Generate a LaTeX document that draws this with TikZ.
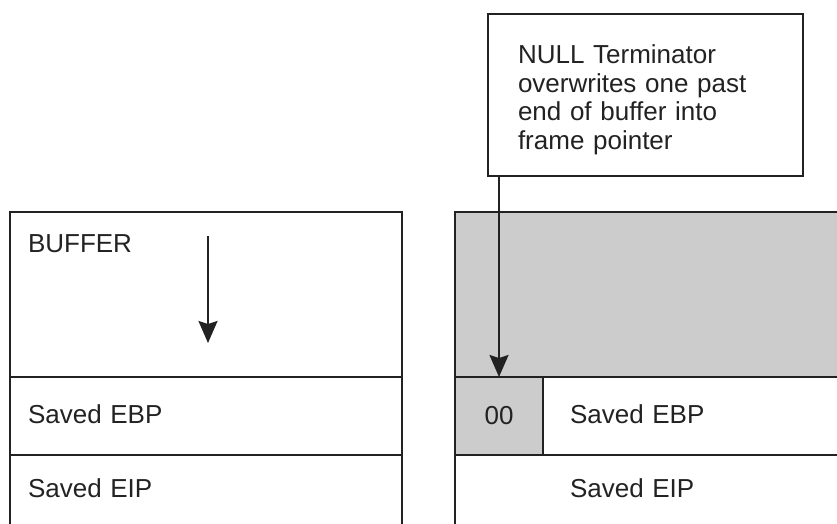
\documentclass[tikz,border=0pt]{standalone}
\usepackage{fontspec}
\setmainfont{Liberation Sans}
\usepackage{tikz}
\usetikzlibrary{arrows.meta}
\definecolor{inkgrey}{RGB}{34,34,34}
\definecolor{fillgrey}{RGB}{204,204,204}

\begin{document}
\begin{tikzpicture}[
  x=1pt, y=-1pt,
  font=\fontsize{26}{28.5}\selectfont,
  text=inkgrey,
  stackcell/.style={draw=inkgrey, line width=2pt, anchor=north west, outer sep=0pt, inner ysep=0pt, align=left},
  bufcell/.style={stackcell, text height=40pt, text depth=125pt},
  ebpcell/.style={stackcell, text height=46pt, text depth=32pt},
  eipcell/.style={stackcell, text height=42pt, text depth=63pt},
  nullcell/.style={stackcell, fill=fillgrey, align=center, inner sep=0pt, minimum width=88pt, minimum height=78pt},
  notebox/.style={draw=inkgrey, line width=2pt, anchor=north west, outer sep=0pt, inner xsep=30pt, inner ysep=0pt, text width=255pt, align=left, text height=50pt, text depth=112pt},
  pointer/.style={-{Stealth[length=22pt, width=19pt, inset=3pt]}, line width=2pt, draw=inkgrey}
]
\useasboundingbox (0,0) rectangle (837,524);
\clip (0,0) rectangle (837,524);

% Left: stack before the copy
\node[bufcell, inner xsep=18pt, text width=356pt] (bufL) at (10,212) {BUFFER};
\node[ebpcell, inner xsep=18pt, text width=356pt] (ebpL) at (10,377) {Saved EBP};
\node[eipcell, inner xsep=18pt, text width=356pt] (eipL) at (10,455) {Saved EIP};

% growth direction inside the buffer
\coordinate (growtop) at (208,236);
\coordinate (growend) at (208,343);
\draw[pointer] (growtop) -- (growend);

% Right: stack after the off-by-one write
\node[stackcell, fill=fillgrey, minimum width=415pt, minimum height=165pt] (bufR) at (455,212) {};
\node[nullcell] (nul) at (455,377) {00};
\node[ebpcell, inner xsep=27pt, text width=273pt] (ebpR) at (543,377) {Saved EBP};
\node[eipcell, inner xsep=115pt, text width=185pt] (eipR) at (455,455) {Saved EIP};

% Callout
\node[notebox] (note) at (488,14) {NULL Terminator\\overwrites one past\\end of buffer into\\frame pointer};
\draw[pointer] (nul.north |- note.south) -- (nul.north);
\end{tikzpicture}
\end{document}
